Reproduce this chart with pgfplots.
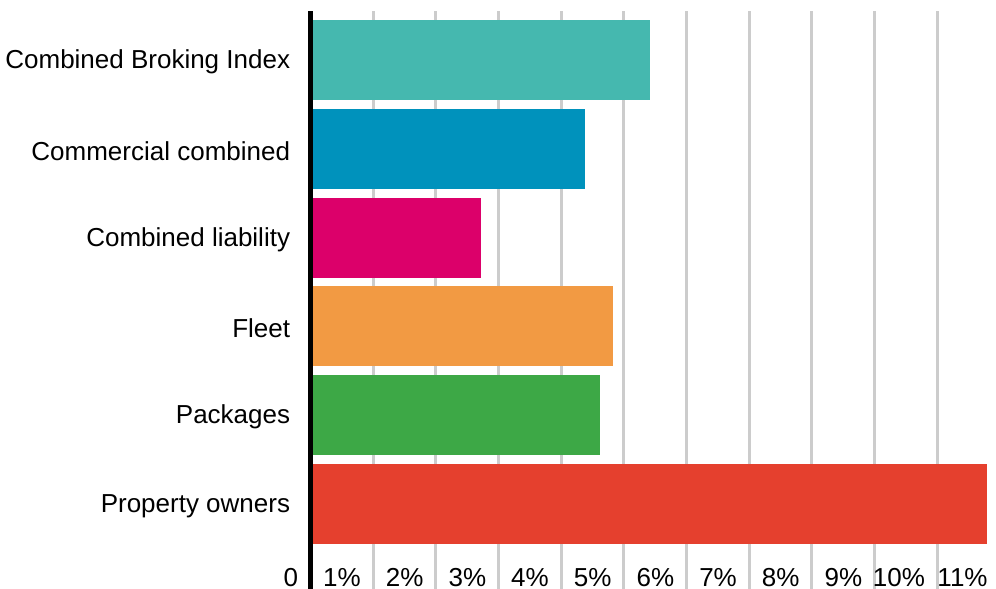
\documentclass[border=0pt]{standalone}
\usepackage{pgfplots}
\pgfplotsset{compat=1.18}
\usepackage{fontspec}
\setmainfont{Liberation Sans}
\definecolor{cTeal}{HTML}{45B8AF}
\definecolor{cBlue}{HTML}{0092BC}
\definecolor{cMag}{HTML}{DC006A}
\definecolor{cOrange}{HTML}{F29A43}
\definecolor{cGreen}{HTML}{3DA846}
\definecolor{cRed}{HTML}{E5402E}
\definecolor{gridgray}{HTML}{CCCCCC}
\begin{document}
\begin{tikzpicture}
\useasboundingbox (-155.25pt,0pt) rectangle (342.75pt,294.5pt);
\begin{axis}[
  at={(0,0)}, anchor=south west, scale only axis,
  width=344.74pt, height=289pt,
  xmin=0, xmax=11, ymin=-0.957, ymax=5.552,
  axis line style={draw=none},
  xtick={0,1,2,3,4,5,6,7,8,9,10,11},
  xticklabels={0,1\%,2\%,3\%,4\%,5\%,6\%,7\%,8\%,9\%,10\%,11\%},
  ytick={0,1,2,3,4,5},
  yticklabels={Property owners,Packages,Fleet,Combined liability,Commercial combined,Combined Broking Index},
  major tick length=0pt,
  xmajorgrids, ymajorgrids=false,
  major grid style={draw=gridgray, line width=1.5pt},
  bar width=0.9,
  tick label style={font=\fontsize{13}{15}\selectfont, inner sep=0pt, text=black},
  xticklabel style={anchor=base east, xshift=-6pt, yshift=1.5pt},
  yticklabel style={anchor=east, xshift=-10pt, yshift=-1pt},
  clip=false,
]
\addplot[xbar, bar shift=0pt, fill=cRed, draw=none] coordinates {(10.80,0)};
\addplot[xbar, bar shift=0pt, fill=cGreen, draw=none] coordinates {(4.62,1)};
\addplot[xbar, bar shift=0pt, fill=cOrange, draw=none] coordinates {(4.82,2)};
\addplot[xbar, bar shift=0pt, fill=cMag, draw=none] coordinates {(2.72,3)};
\addplot[xbar, bar shift=0pt, fill=cBlue, draw=none] coordinates {(4.38,4)};
\addplot[xbar, bar shift=0pt, fill=cTeal, draw=none] coordinates {(5.41,5)};
\draw[black, line width=2.3pt] (axis cs:0,-0.957) -- (axis cs:0,5.552);
\end{axis}
\end{tikzpicture}
\end{document}
